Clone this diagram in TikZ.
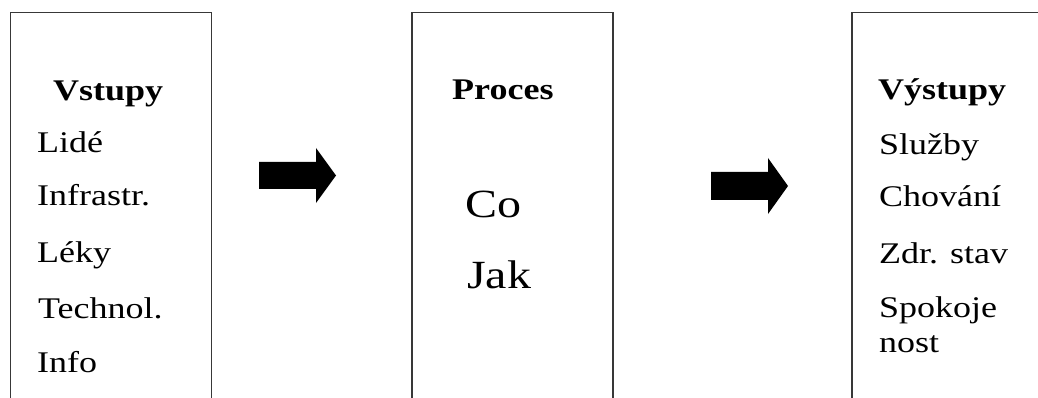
\documentclass[tikz,border=0pt]{standalone}
\usepackage{fontspec}
\setmainfont{Liberation Serif}[FakeStretch=1.2]
\begin{document}
\begin{tikzpicture}[x=1pt,y=-1pt,
  frame/.style={draw=black!78, line width=1.5pt, fill=none, inner sep=0pt,
                anchor=north west, minimum height=440pt},
  item/.style={anchor=base west, inner sep=0pt, font=\fontsize{30}{35}\selectfont},
  heading/.style={item, font=\fontsize{30}{35}\selectfont\bfseries},
  big/.style={anchor=base west, inner sep=0pt, font=\fontsize{40}{46}\selectfont},
  fatarrow/.style={fill=black, draw=none}]
\useasboundingbox (0,0) rectangle (1038,398);
\clip (0,0) rectangle (1038,398);

% three columns, open at the bottom edge
\node[frame, minimum width=201pt] (inputs)  at (9.5,12) {};
\node[frame, minimum width=201pt] (process) at (411,12) {};
\node[frame, minimum width=260pt] (outputs) at (851,12) {};

% inputs
\node[heading] (vst)  at (53,101)  {Vstupy};
\node[item]    (lide) at (37,153)  {Lidé};
\node[item]    (infr) at (37,205)  {Infrastr.};
\node[item]    (leky) at (37,262)  {Léky};
\node[item]    (tech) at (38,318)  {Technol.};
\node[item]    (info) at (37,372)  {Info};

% process
\node[heading] (proc) at (452,100) {Proces};
\node[big]     (co)   at (465,217) {Co};
\node[big]     (jak)  at (467,288) {Jak};

% outputs
\node[heading] (vys)  at (878,100) {Výstupy};
\node[item]    (sluz) at (879,155) {Služby};
\node[item]    (chov) at (879,207) {Chování};
\node[item]    (zdr)  at (879,263) {Zdr. stav};
\node[item]    (spo)  at (879,317) {Spokoje};
\node[item]    (nost) at (879,352) {nost};

% block arrows between the columns
\coordinate (a1) at (259,175.5);
\coordinate (a2) at (711,186);
\fill[fatarrow] (a1) ++(0,-13.5) -- ++(57,0) -- ++(0,-14) -- ++(20,27.5)
  -- ++(-20,27.5) -- ++(0,-14) -- ++(-57,0) -- cycle;
\fill[fatarrow] (a2) ++(0,-14) -- ++(57,0) -- ++(0,-14) -- ++(20,28)
  -- ++(-20,28) -- ++(0,-14) -- ++(-57,0) -- cycle;
\end{tikzpicture}
\end{document}
